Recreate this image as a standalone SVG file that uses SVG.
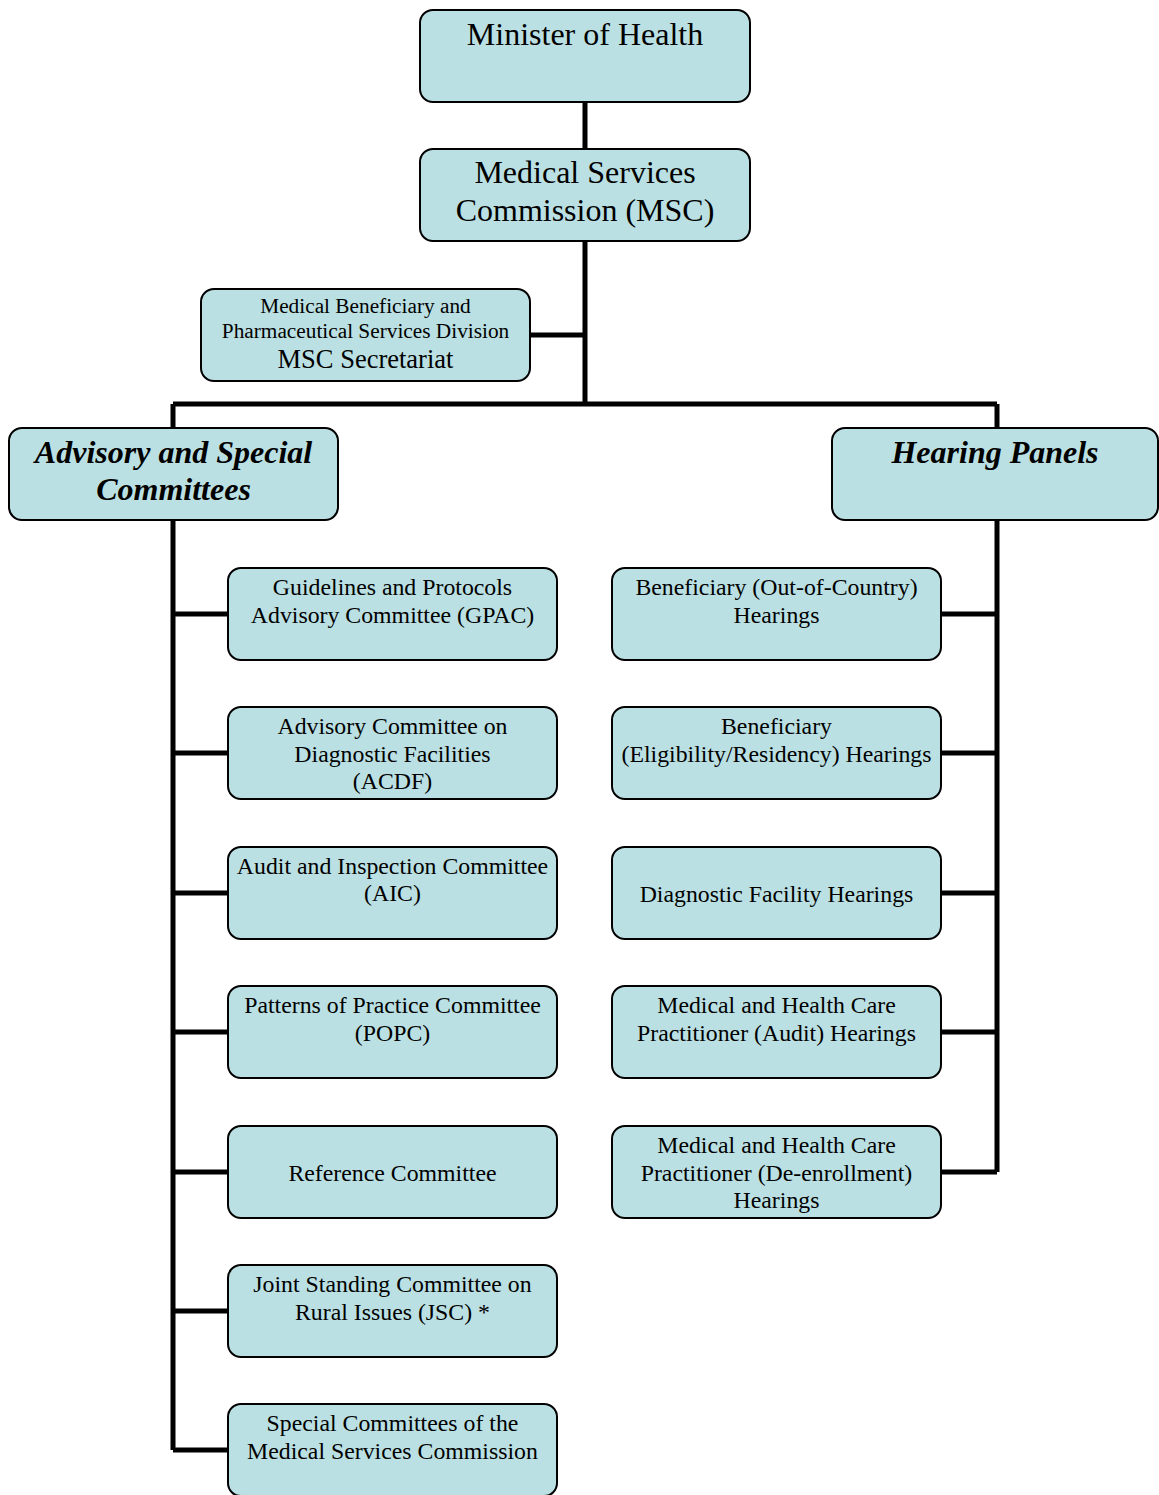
<svg xmlns="http://www.w3.org/2000/svg" width="1159" height="1495" viewBox="0 0 1159 1495">
<style>
.box{fill:#bbe0e3;stroke:#000;stroke-width:2}
.t{font-family:"Liberation Serif","Times New Roman",serif;fill:#000;text-anchor:middle}
.big{font-size:32px}
.med{font-size:26.5px}
.sm{font-size:21.3px}
.ch{font-size:23.8px}
.hd{font-size:32px;font-weight:bold;font-style:italic}
.c{stroke:#000;stroke-width:5;fill:none}
</style>
<rect width="1159" height="1495" fill="#fff"/>
<g id="connectors">
<path class="c" d="M585 102V404M530 335H585M173 404H997M173 404V428M997 404V428"/>
<path class="c" d="M173 520V1450M173 614H228M173 753H228M173 893H228M173 1032H228M173 1172H228M173 1311H228M173 1450H228"/>
<path class="c" d="M997 520V1172M941 614H997M941 753H997M941 893H997M941 1032H997M941 1172H997"/>
</g>
<g id="minister"><rect class="box" x="420" y="10" width="330" height="92" rx="13"/><text class="t big" x="585" y="45">Minister of Health</text></g>
<g id="msc"><rect class="box" x="420" y="149" width="330" height="92" rx="13"/><text class="t big" x="585" y="183">Medical Services</text><text class="t big" x="585" y="221">Commission (MSC)</text></g>
<g id="secretariat"><rect class="box" x="201" y="289" width="329" height="92" rx="13"/><text class="t sm" x="365.5" y="313">Medical Beneficiary and</text><text class="t sm" x="365.5" y="338">Pharmaceutical Services Division</text><text class="t med" x="365.5" y="368">MSC Secretariat</text></g>
<g id="advisory"><rect class="box" x="9" y="428" width="329" height="92" rx="13"/><text class="t hd" x="173.5" y="463">Advisory and Special</text><text class="t hd" x="173.5" y="500">Committees</text></g>
<g id="hearing"><rect class="box" x="832" y="428" width="326" height="92" rx="13"/><text class="t hd" x="995" y="463">Hearing Panels</text></g>
<g id="gpac"><rect class="box" x="228" y="568" width="329" height="92" rx="13"/><text class="t ch" x="392.5" y="595">Guidelines and Protocols</text><text class="t ch" x="392.5" y="623">Advisory Committee (GPAC)</text></g>
<g id="acdf"><rect class="box" x="228" y="707" width="329" height="92" rx="13"/><text class="t ch" x="392.5" y="734">Advisory Committee on</text><text class="t ch" x="392.5" y="762">Diagnostic Facilities</text><text class="t ch" x="392.5" y="789">(ACDF)</text></g>
<g id="aic"><rect class="box" x="228" y="847" width="329" height="92" rx="13"/><text class="t ch" x="392.5" y="874">Audit and Inspection Committee</text><text class="t ch" x="392.5" y="901">(AIC)</text></g>
<g id="popc"><rect class="box" x="228" y="986" width="329" height="92" rx="13"/><text class="t ch" x="392.5" y="1013">Patterns of Practice Committee</text><text class="t ch" x="392.5" y="1041">(POPC)</text></g>
<g id="reference"><rect class="box" x="228" y="1126" width="329" height="92" rx="13"/><text class="t ch" x="392.5" y="1181">Reference Committee</text></g>
<g id="jsc"><rect class="box" x="228" y="1265" width="329" height="92" rx="13"/><text class="t ch" x="392.5" y="1292">Joint Standing Committee on</text><text class="t ch" x="392.5" y="1320">Rural Issues (JSC) *</text></g>
<g id="special"><rect class="box" x="228" y="1404" width="329" height="92" rx="13"/><text class="t ch" x="392.5" y="1431">Special Committees of the</text><text class="t ch" x="392.5" y="1459">Medical Services Commission</text></g>
<g id="outofcountry"><rect class="box" x="612" y="568" width="329" height="92" rx="13"/><text class="t ch" x="776.5" y="595">Beneficiary (Out-of-Country)</text><text class="t ch" x="776.5" y="623">Hearings</text></g>
<g id="eligibility"><rect class="box" x="612" y="707" width="329" height="92" rx="13"/><text class="t ch" x="776.5" y="734">Beneficiary</text><text class="t ch" x="776.5" y="762">(Eligibility/Residency) Hearings</text></g>
<g id="diagnostic"><rect class="box" x="612" y="847" width="329" height="92" rx="13"/><text class="t ch" x="776.5" y="902">Diagnostic Facility Hearings</text></g>
<g id="audit"><rect class="box" x="612" y="986" width="329" height="92" rx="13"/><text class="t ch" x="776.5" y="1013">Medical and Health Care</text><text class="t ch" x="776.5" y="1041">Practitioner (Audit) Hearings</text></g>
<g id="deenrollment"><rect class="box" x="612" y="1126" width="329" height="92" rx="13"/><text class="t ch" x="776.5" y="1153">Medical and Health Care</text><text class="t ch" x="776.5" y="1181">Practitioner (De-enrollment)</text><text class="t ch" x="776.5" y="1208">Hearings</text></g>
</svg>
